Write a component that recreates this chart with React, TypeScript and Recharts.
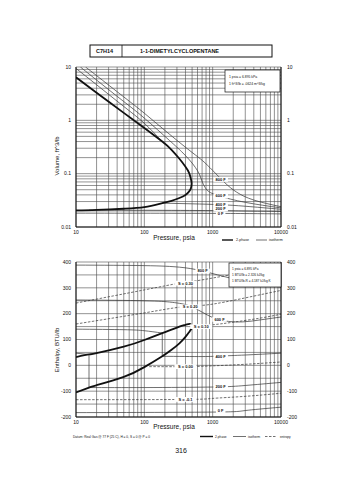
import React from 'react';
import { LineChart, Line, XAxis, YAxis, CartesianGrid, ReferenceDot } from 'recharts';

const FONT = '"Liberation Sans", Arial, sans-serif';

// ---------- axes ----------
const pressureLabels = [10, 100, 1000, 10000];
const volumeLabels = [0.01, 0.1, 1, 10];
const enthalpyLabels = [-200, -100, 0, 100, 200, 300, 400];
const enthalpyGrid = [-200, -150, -100, -50, 0, 50, 100, 150, 200, 250, 300, 350, 400];

// ---------- volume chart (P psia, V ft3/lb) ----------
const domeP = [10, 20, 50, 100, 183, 250, 326, 400, 450, 478, 492, 480, 450, 400, 326, 250, 183, 100, 50, 20, 10];
const domeV = [6.4, 3.3, 1.38, 0.72, 0.4, 0.28, 0.19, 0.135, 0.105, 0.082, 0.066, 0.053, 0.046, 0.04, 0.035, 0.031, 0.028, 0.0235, 0.022, 0.021, 0.0205];

const v800P = [13.8, 20, 50, 100, 233, 500, 712, 1000, 1500, 2245, 4000, 10000];
const v800V = [10, 6.9, 2.75, 1.36, 0.55, 0.25, 0.175, 0.115, 0.068, 0.045, 0.032, 0.024];
const v600P = [11.6, 20, 50, 100, 233, 350, 459, 560, 645, 712, 800, 905, 1260, 3000, 10000];
const v600V = [10, 5.7, 2.25, 1.1, 0.42, 0.26, 0.18, 0.13, 0.095, 0.068, 0.052, 0.045, 0.038, 0.029, 0.0228];
const v400vapP = [10, 20, 50, 100, 183];
const v400vapV = [9.4, 4.65, 1.82, 0.88, 0.4];
const v400liqP = [183, 500, 1300, 3000, 10000];
const v400liqV = [0.028, 0.0272, 0.0262, 0.0245, 0.0215];
const v200liqP = [15.5, 100, 1000, 3000, 10000];
const v200liqV = [0.0207, 0.0206, 0.0203, 0.0199, 0.0195];
const v0liqP = [10, 1000, 10000];
const v0liqV = [0.0182, 0.018, 0.0176];

const vTagText = ['800 F', '600 F', '400 F', '200 F', '0 F'];
const vTagP = [1310, 1310, 1310, 1310, 1310];
const vTagV = [0.078, 0.038, 0.0268, 0.0217, 0.0176];

// ---------- enthalpy chart (P psia, H BTU/lb) ----------
const hDomeP = [10, 15.5, 20, 50, 100, 183, 250, 326, 400, 474, 505, 490, 450, 400, 326, 250, 183, 100, 50, 20, 15.5, 10];
const hDomeH = [32, 42, 47, 72, 98, 125, 138, 150, 157, 160, 150, 142, 128, 110, 85, 60, 35, -7, -45, -77, -86, -105];

const h800P = [10, 100, 326, 712, 2000, 5000, 10000];
const h800H = [388, 386, 380, 365, 335, 315, 303];
const h600P = [10, 100, 233, 326, 474, 712, 1000, 1500, 2700, 5000, 10000];
const h600H = [253, 250, 245, 240, 229, 205, 185, 172, 168, 176, 187];
const h400vapP = [10, 50, 100, 183];
const h400vapH = [140, 138, 134, 125];
const h400tieP = [183, 183];
const h400tieH = [125, 35];
const h400liqP = [183, 700, 1300, 3000, 10000];
const h400liqH = [35, 34, 36, 40, 47];
const h200vapP = [10, 15.5];
const h200vapH = [47, 42];
const h200tieP = [15.5, 15.5];
const h200tieH = [42, -86];
const h200liqP = [15.5, 100, 1000, 3000, 10000];
const h200liqH = [-86, -86, -84, -78, -66];
const h0liqP = [10, 1000, 3000, 10000];
const h0liqH = [-183, -181, -175, -162];

const s1P = [10, 100, 326, 600, 1000, 2000];
const s1H = [241, 292, 318, 328, 338, 352];
const s2P = [10, 100, 326, 700, 1500, 4000, 10000];
const s2H = [160, 203, 225, 232, 245, 268, 290];
const s3P = [505, 1000, 2000, 5000, 10000];
const s3H = [150, 157, 167, 183, 198];
const s4P = [118, 400, 1000, 3000, 10000];
const s4H = [-5, -5, -2, 4, 13];
const s5P = [10, 400, 1000, 3000, 10000];
const s5H = [-133, -132, -128, -120, -108];

const hTagText = ['800 F', '600 F', '400 F', '200 F', '0 F', 'S = 0.30', 'S = 0.20', 'S = 0.10', 'S = 0.00', 'S = -0.1'];
const hTagP = [712, 1260, 1310, 1310, 1310, 400, 470, 680, 400, 400];
const hTagH = [365, 178, 35, -84, -175, 318, 226, 150, -5, -132];

// ---------- helpers ----------
function logGrid(from: number, to: number) {
  const out: number[] = [];
  for (let d = from; d < to * 0.99; d *= 10) {
    for (let m = 1; m < 10; m++) out.push(+(d * m).toPrecision(3));
  }
  out.push(to);
  return out;
}
const pGrid = logGrid(10, 10000);
const vGrid = logGrid(0.01, 10);

const zip = (xs: number[], ys: number[]) => xs.map((x, i) => ({ p: x, y: ys[i] }));

const Tag = (props: any) => {
  const vb = props.viewBox || {};
  const cx = (vb.x ?? 0) + (vb.width ?? 0) / 2;
  const cy = (vb.y ?? 0) + (vb.height ?? 0) / 2;
  const text: string = props.text;
  const w = text.length * 2.5 + 2;
  return (
    <g>
      <rect x={cx - w / 2} y={cy - 2.4} width={w} height={4.8} fill="#fff" />
      <text x={cx} y={cy + 1.4} textAnchor="middle" fontSize={4} fontFamily={FONT} fontWeight="bold" fill="#111">
        {text}
      </text>
    </g>
  );
};

const tickStyle = { fontSize: 5, fontFamily: FONT, fill: '#111' };
const GRID = '#4a4a4a';
const THICK = { stroke: '#111', strokeWidth: 1.8 };
const THIN = { stroke: '#333', strokeWidth: 0.7 };

const fmtP = (v: number) => (pressureLabels.includes(v) ? String(v) : '');
const fmtV = (v: number) => (volumeLabels.includes(v) ? String(v) : '');
const fmtH = (v: number) => (enthalpyLabels.includes(v) ? String(v) : '');

function VolumeChart() {
  return (
    <LineChart width={355} height={250} margin={{ top: 67, right: 0, bottom: 9, left: 0 }}>
      <CartesianGrid stroke={GRID} strokeWidth={0.6} />
      <XAxis dataKey="p" type="number" scale="log" domain={[10, 10000]} ticks={pGrid} allowDataOverflow
        tickFormatter={fmtP} tickLine={false} tickSize={0} tickMargin={3} height={14} tick={tickStyle} interval={0}
        axisLine={{ stroke: '#111' }} />
      <YAxis type="number" scale="log" domain={[0.01, 10]} ticks={vGrid} allowDataOverflow width={76}
        tickFormatter={fmtV} tickLine={false} tickSize={0} tickMargin={5} tick={tickStyle} interval={0}
        axisLine={{ stroke: '#111' }} />
      <YAxis yAxisId="r" orientation="right" type="number" scale="log" domain={[0.01, 10]} ticks={vGrid} allowDataOverflow width={74}
        tickFormatter={fmtV} tickLine={false} tickSize={0} tickMargin={6} tick={tickStyle} interval={0}
        axisLine={{ stroke: '#111' }} />
      <Line data={zip(v800P, v800V)} dataKey="y" type="natural" dot={false} isAnimationActive={false} {...THIN} />
      <Line data={zip(v600P, v600V)} dataKey="y" type="natural" dot={false} isAnimationActive={false} {...THIN} />
      <Line data={zip(v400vapP, v400vapV)} dataKey="y" type="natural" dot={false} isAnimationActive={false} {...THIN} />
      <Line data={zip(v400liqP, v400liqV)} dataKey="y" type="natural" dot={false} isAnimationActive={false} {...THIN} />
      <Line data={zip(v200liqP, v200liqV)} dataKey="y" type="natural" dot={false} isAnimationActive={false} {...THIN} />
      <Line data={zip(v0liqP, v0liqV)} dataKey="y" type="natural" dot={false} isAnimationActive={false} {...THIN} />
      <Line data={zip(domeP, domeV)} dataKey="y" type="natural" dot={false} isAnimationActive={false} {...THICK} />
      {vTagText.map((t, i) => (
        <ReferenceDot key={t} x={vTagP[i]} y={vTagV[i]} r={0} fill="none" stroke="none"
          label={{ content: (p: any) => <Tag {...p} text={t} /> }} />
      ))}
    </LineChart>
  );
}

function EnthalpyChart() {
  return (
    <LineChart width={355} height={190} margin={{ top: 12, right: 0, bottom: 9, left: 0 }}>
      <CartesianGrid stroke={GRID} strokeWidth={0.6} />
      <XAxis dataKey="p" type="number" scale="log" domain={[10, 10000]} ticks={pGrid} allowDataOverflow
        tickFormatter={fmtP} tickLine={false} tickSize={0} tickMargin={3} height={14} tick={tickStyle} interval={0}
        axisLine={{ stroke: '#111' }} />
      <YAxis type="number" domain={[-200, 400]} ticks={enthalpyGrid} allowDataOverflow width={76}
        tickFormatter={fmtH} tickLine={false} tickSize={0} tickMargin={5} tick={tickStyle} interval={0}
        axisLine={{ stroke: '#111' }} />
      <YAxis yAxisId="r" orientation="right" type="number" domain={[-200, 400]} ticks={enthalpyGrid} allowDataOverflow width={74}
        tickFormatter={fmtH} tickLine={false} tickSize={0} tickMargin={6} tick={tickStyle} interval={0}
        axisLine={{ stroke: '#111' }} />
      <Line data={zip(s1P, s1H)} dataKey="y" type="natural" dot={false} isAnimationActive={false} {...THIN} strokeDasharray="2.5 1.5" />
      <Line data={zip(s2P, s2H)} dataKey="y" type="natural" dot={false} isAnimationActive={false} {...THIN} strokeDasharray="2.5 1.5" />
      <Line data={zip(s3P, s3H)} dataKey="y" type="natural" dot={false} isAnimationActive={false} {...THIN} strokeDasharray="2.5 1.5" />
      <Line data={zip(s4P, s4H)} dataKey="y" type="natural" dot={false} isAnimationActive={false} {...THIN} strokeDasharray="2.5 1.5" />
      <Line data={zip(s5P, s5H)} dataKey="y" type="natural" dot={false} isAnimationActive={false} {...THIN} strokeDasharray="2.5 1.5" />
      <Line data={zip(h800P, h800H)} dataKey="y" type="natural" dot={false} isAnimationActive={false} {...THIN} />
      <Line data={zip(h600P, h600H)} dataKey="y" type="natural" dot={false} isAnimationActive={false} {...THIN} />
      <Line data={zip(h400vapP, h400vapH)} dataKey="y" type="natural" dot={false} isAnimationActive={false} {...THIN} />
      <Line data={zip(h400tieP, h400tieH)} dataKey="y" type="linear" dot={false} isAnimationActive={false} {...THIN} />
      <Line data={zip(h400liqP, h400liqH)} dataKey="y" type="natural" dot={false} isAnimationActive={false} {...THIN} />
      <Line data={zip(h200vapP, h200vapH)} dataKey="y" type="linear" dot={false} isAnimationActive={false} {...THIN} />
      <Line data={zip(h200tieP, h200tieH)} dataKey="y" type="linear" dot={false} isAnimationActive={false} {...THIN} />
      <Line data={zip(h200liqP, h200liqH)} dataKey="y" type="natural" dot={false} isAnimationActive={false} {...THIN} />
      <Line data={zip(h0liqP, h0liqH)} dataKey="y" type="natural" dot={false} isAnimationActive={false} {...THIN} />
      <Line data={zip(hDomeP, hDomeH)} dataKey="y" type="natural" dot={false} isAnimationActive={false} {...THICK} />
      {hTagText.map((t, i) => (
        <ReferenceDot key={t} x={hTagP[i]} y={hTagH[i]} r={0} fill="none" stroke="none"
          label={{ content: (p: any) => <Tag {...p} text={t} /> }} />
      ))}
    </LineChart>
  );
}

function Overlay() {
  const t = { fontFamily: FONT, fill: '#111' } as const;
  return (
    <svg width={355} height={480} style={{ position: 'absolute', left: 0, top: 0, pointerEvents: 'none' }}>
      {/* title box */}
      <rect x={90} y={45} width={182} height={12} fill="#fff" stroke="#111" strokeWidth={1} />
      <line x1={122} y1={45} x2={122} y2={57} stroke="#111" strokeWidth={0.8} />
      <text x={96} y={53.2} fontSize={5.5} fontWeight="bold" {...t}>C7H14</text>
      <text x={140} y={53.2} fontSize={5.5} fontWeight="bold" {...t}>1-1-DIMETYLCYCLOPENTANE</text>

      {/* top info box */}
      <rect x={225} y={70} width={55} height={22} fill="#fff" stroke="#111" strokeWidth={0.7} />
      <text x={229} y={78} fontSize={3.4} {...t}>1 psia = 6.895 kPa</text>
      <text x={229} y={84.5} fontSize={3.4} {...t}>1 ft^3/lb = .0624 m^3/kg</text>

      {/* top axis titles */}
      <text x={59} y={156} fontSize={6} transform="rotate(-90 59 156)" textAnchor="middle" {...t}>Volume, ft^3/lb</text>
      <text x={174} y={240} fontSize={6.5} textAnchor="middle" {...t}>Pressure,  psia</text>
      <line x1={222} y1={240} x2={233} y2={240} stroke="#111" strokeWidth={1.4} />
      <text x={236} y={241.3} fontSize={3.6} {...t}>2-phase</text>
      <line x1={256} y1={240} x2={267} y2={240} stroke="#333" strokeWidth={0.7} />
      <text x={269} y={241.3} fontSize={3.6} {...t}>isotherm</text>

      {/* bottom info box */}
      <rect x={229} y={263} width={52} height={24} fill="#fff" stroke="#111" strokeWidth={0.7} />
      <text x={232} y={270} fontSize={3.2} {...t}>1 psia = 6.895 kPa</text>
      <text x={232} y={276} fontSize={3.2} {...t}>1 BTU/lb = 2.326 kJ/kg</text>
      <text x={232} y={282} fontSize={3.2} {...t}>1 BTU/lb-R = 4.187 kJ/kg K</text>

      {/* bottom axis titles */}
      <text x={59} y={350} fontSize={6} transform="rotate(-90 59 350)" textAnchor="middle" {...t}>Enthalpy, BTU/lb</text>
      <text x={174} y={429} fontSize={6.5} textAnchor="middle" {...t}>Pressure,  psia</text>
      <text x={73} y={437.5} fontSize={3.2} textLength={77} {...t}>Datum: Real Gas @ 77 F (25 C), H = 0, S = 0 @ P = 0</text>
      <line x1={200} y1={436.5} x2={213} y2={436.5} stroke="#111" strokeWidth={1.4} />
      <text x={215} y={437.7} fontSize={3.2} {...t}>2-phase</text>
      <line x1={233} y1={436.5} x2={246} y2={436.5} stroke="#333" strokeWidth={0.7} />
      <text x={248} y={437.7} fontSize={3.2} {...t}>isotherm</text>
      <line x1={265} y1={436.5} x2={277} y2={436.5} stroke="#333" strokeWidth={0.7} strokeDasharray="2.5 1.5" />
      <text x={280} y={437.7} fontSize={3.2} {...t}>entropy</text>

      <text x={181} y={453} fontSize={7} textAnchor="middle" {...t}>316</text>
    </svg>
  );
}

export default function App() {
  return (
    <div style={{ position: 'absolute', left: 0, top: 0, width: 355, height: 480, background: '#fff', overflow: 'hidden' }}>
      <div style={{ position: 'absolute', left: 0, top: 0 }}>
        <VolumeChart />
      </div>
      <div style={{ position: 'absolute', left: 0, top: 250 }}>
        <EnthalpyChart />
      </div>
      <Overlay />
    </div>
  );
}
